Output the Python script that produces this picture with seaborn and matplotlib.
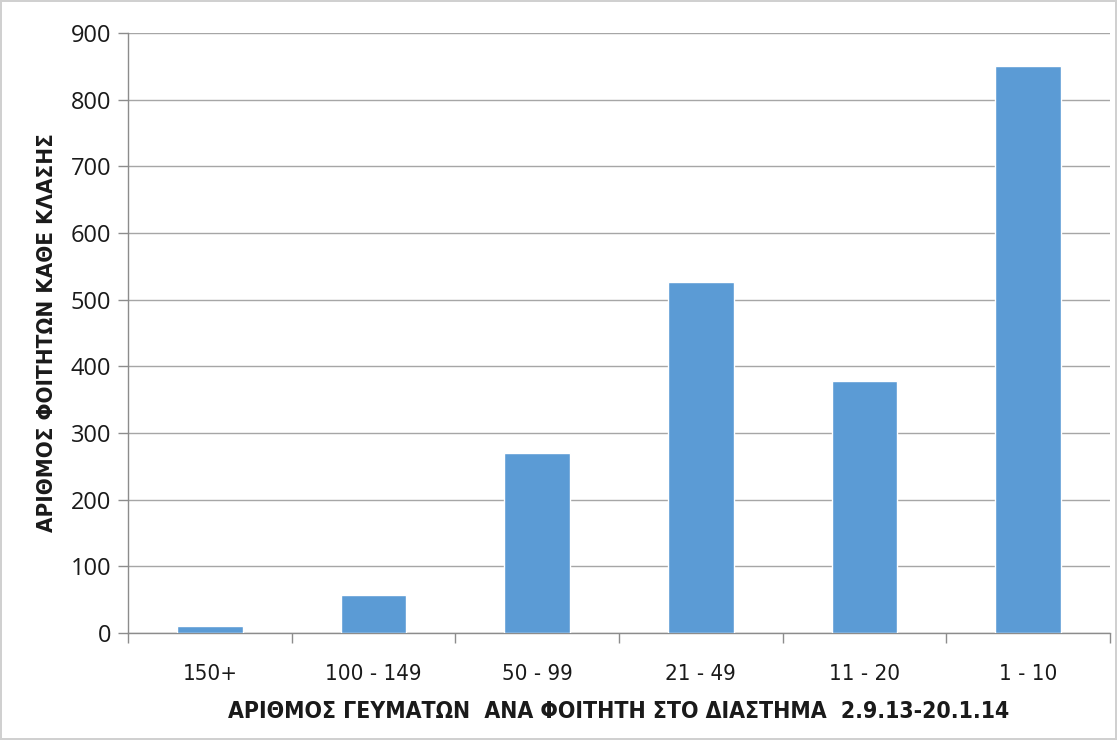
import numpy as np
import pandas as pd
import seaborn as sns
import matplotlib.pyplot as plt
from matplotlib.ticker import FixedLocator

# meal-count classes and number of students in each
classes = ["150+", "100 - 149", "50 - 99", "21 - 49", "11 - 20", "1 - 10"]
students = [10, 57, 270, 526, 378, 850]
y_ticks = [0, 100, 200, 300, 400, 500, 600, 700, 800, 900]

df = pd.DataFrame({"class": classes, "students": students})

sns.set_theme(style="white")
plt.rcParams['font.family'] = ['DejaVu Sans']
plt.rcParams['font.stretch'] = 'condensed'

fig = plt.figure(figsize=(11.17, 7.4), dpi=100, linewidth=1.5, edgecolor="#d0d0d0")
ax = fig.add_axes([0.1146, 0.1446, 0.8791, 0.8108])

sns.barplot(data=df, x="class", y="students", color="#5B9BD5", width=0.4,
            saturation=1, ax=ax, zorder=3)

ax.set_ylim(0, 900)
ax.set_xlim(-0.5, len(classes) - 0.5)
ax.set_yticks(y_ticks)
ax.yaxis.grid(True, color="#a6a6a6", linewidth=1, zorder=0)
ax.set_axisbelow(True)

for s in ["top", "right"]:
    ax.spines[s].set_visible(False)
for s in ["left", "bottom"]:
    ax.spines[s].set_color("#8c8c8c")
    ax.spines[s].set_linewidth(1)

# category ticks at the boundaries, labels at the centres
ax.xaxis.set_minor_locator(FixedLocator(np.arange(-0.5, len(classes), 1.0)))
ax.tick_params(axis="x", which="major", length=0, pad=22, labelsize=16, labelcolor="#1a1a1a")
ax.tick_params(axis="x", which="minor", length=7, width=1, color="#8c8c8c", direction="out", bottom=True)
ax.tick_params(axis="y", length=7, width=1, color="#8c8c8c", direction="out", left=True,
               labelcolor="#1a1a1a", pad=5)
for lab in ax.get_yticklabels():
    lab.set_family(["Open Sans", "DejaVu Sans"])
    lab.set_stretch("normal")
    lab.set_fontsize(17)

ax.set_xlabel("ΑΡΙΘΜΟΣ ΓΕΥΜΑΤΩΝ  ΑΝΑ ΦΟΙΤΗΤΗ ΣΤΟ ΔΙΑΣΤΗΜΑ  2.9.13-20.1.14",
              fontsize=16.5, fontweight="bold", color="#1a1a1a", labelpad=12)
ax.set_ylabel("ΑΡΙΘΜΟΣ ΦΟΙΤΗΤΩΝ ΚΑΘΕ ΚΛΑΣΗΣ",
              fontsize=16, fontweight="bold", color="#1a1a1a", labelpad=10)

fig.savefig("out.png", dpi=100)
